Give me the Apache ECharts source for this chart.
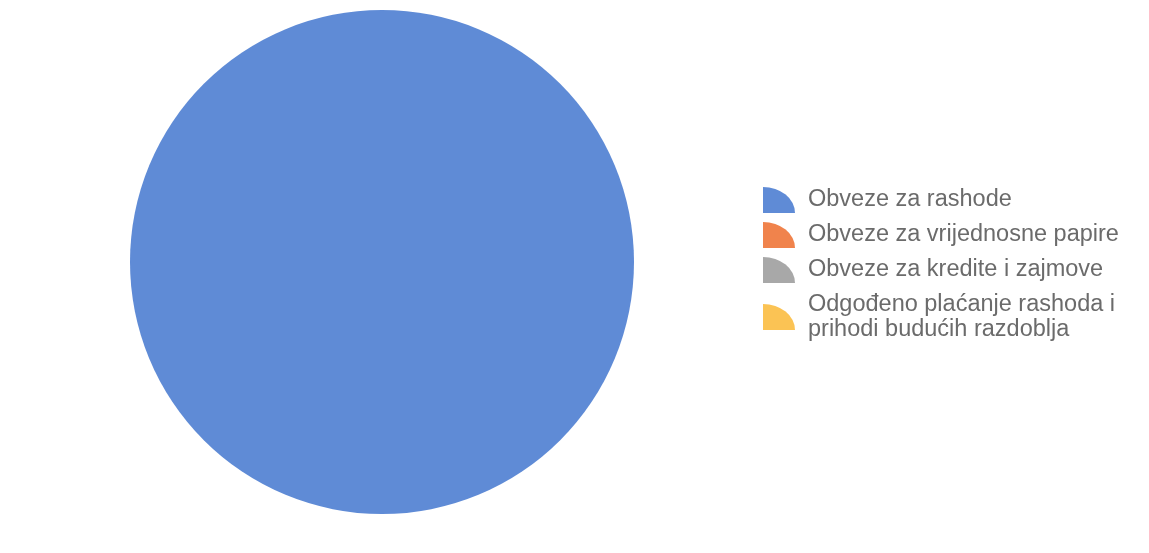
<!DOCTYPE html>
<html>
<head>
<meta charset="utf-8">
<script src="https://cdn.jsdelivr.net/npm/echarts@6/dist/echarts.min.js"></script>
<style>
html,body{margin:0;padding:0;background:#fff;}
#chart{width:1149px;height:553px;}
</style>
</head>
<body>
<div id="chart"></div>
<script>
const categories = [
  'Obveze za rashode',
  'Obveze za vrijednosne papire',
  'Obveze za kredite i zajmove',
  'Odgođeno plaćanje rashoda i\nprihodi budućih razdoblja'
];
const shares = [100, 0, 0, 0];
const colors = ['#5f8bd6', '#f0834c', '#a8a8a8', '#fbc354'];

const chart = echarts.init(document.getElementById('chart'), null, {renderer: 'canvas'});
chart.setOption({
  backgroundColor: '#ffffff',
  animation: false,
  legend: {
    orient: 'vertical',
    left: 758,
    top: 182,
    itemWidth: 32,
    itemHeight: 26,
    itemGap: 9,
    icon: 'path://M0,0 A32,26 0 0 1 32,26 L0,26 Z',
    selectedMode: false,
    textStyle: {
      fontFamily: 'Liberation Sans, Arial, sans-serif',
      fontSize: 23.5,
      color: '#6b6b6b',
      lineHeight: 25,
      padding: [0, 0, 0, 8]
    }
  },
  series: [{
    type: 'pie',
    center: [382, 262],
    radius: [0, 252],
    startAngle: 90,
    label: {show: false},
    labelLine: {show: false},
    itemStyle: {borderWidth: 0},
    emphasis: {disabled: true},
    data: categories.map((c, i) => ({name: c, value: shares[i], itemStyle: {color: colors[i]}}))
  }]
});
</script>
</body>
</html>
